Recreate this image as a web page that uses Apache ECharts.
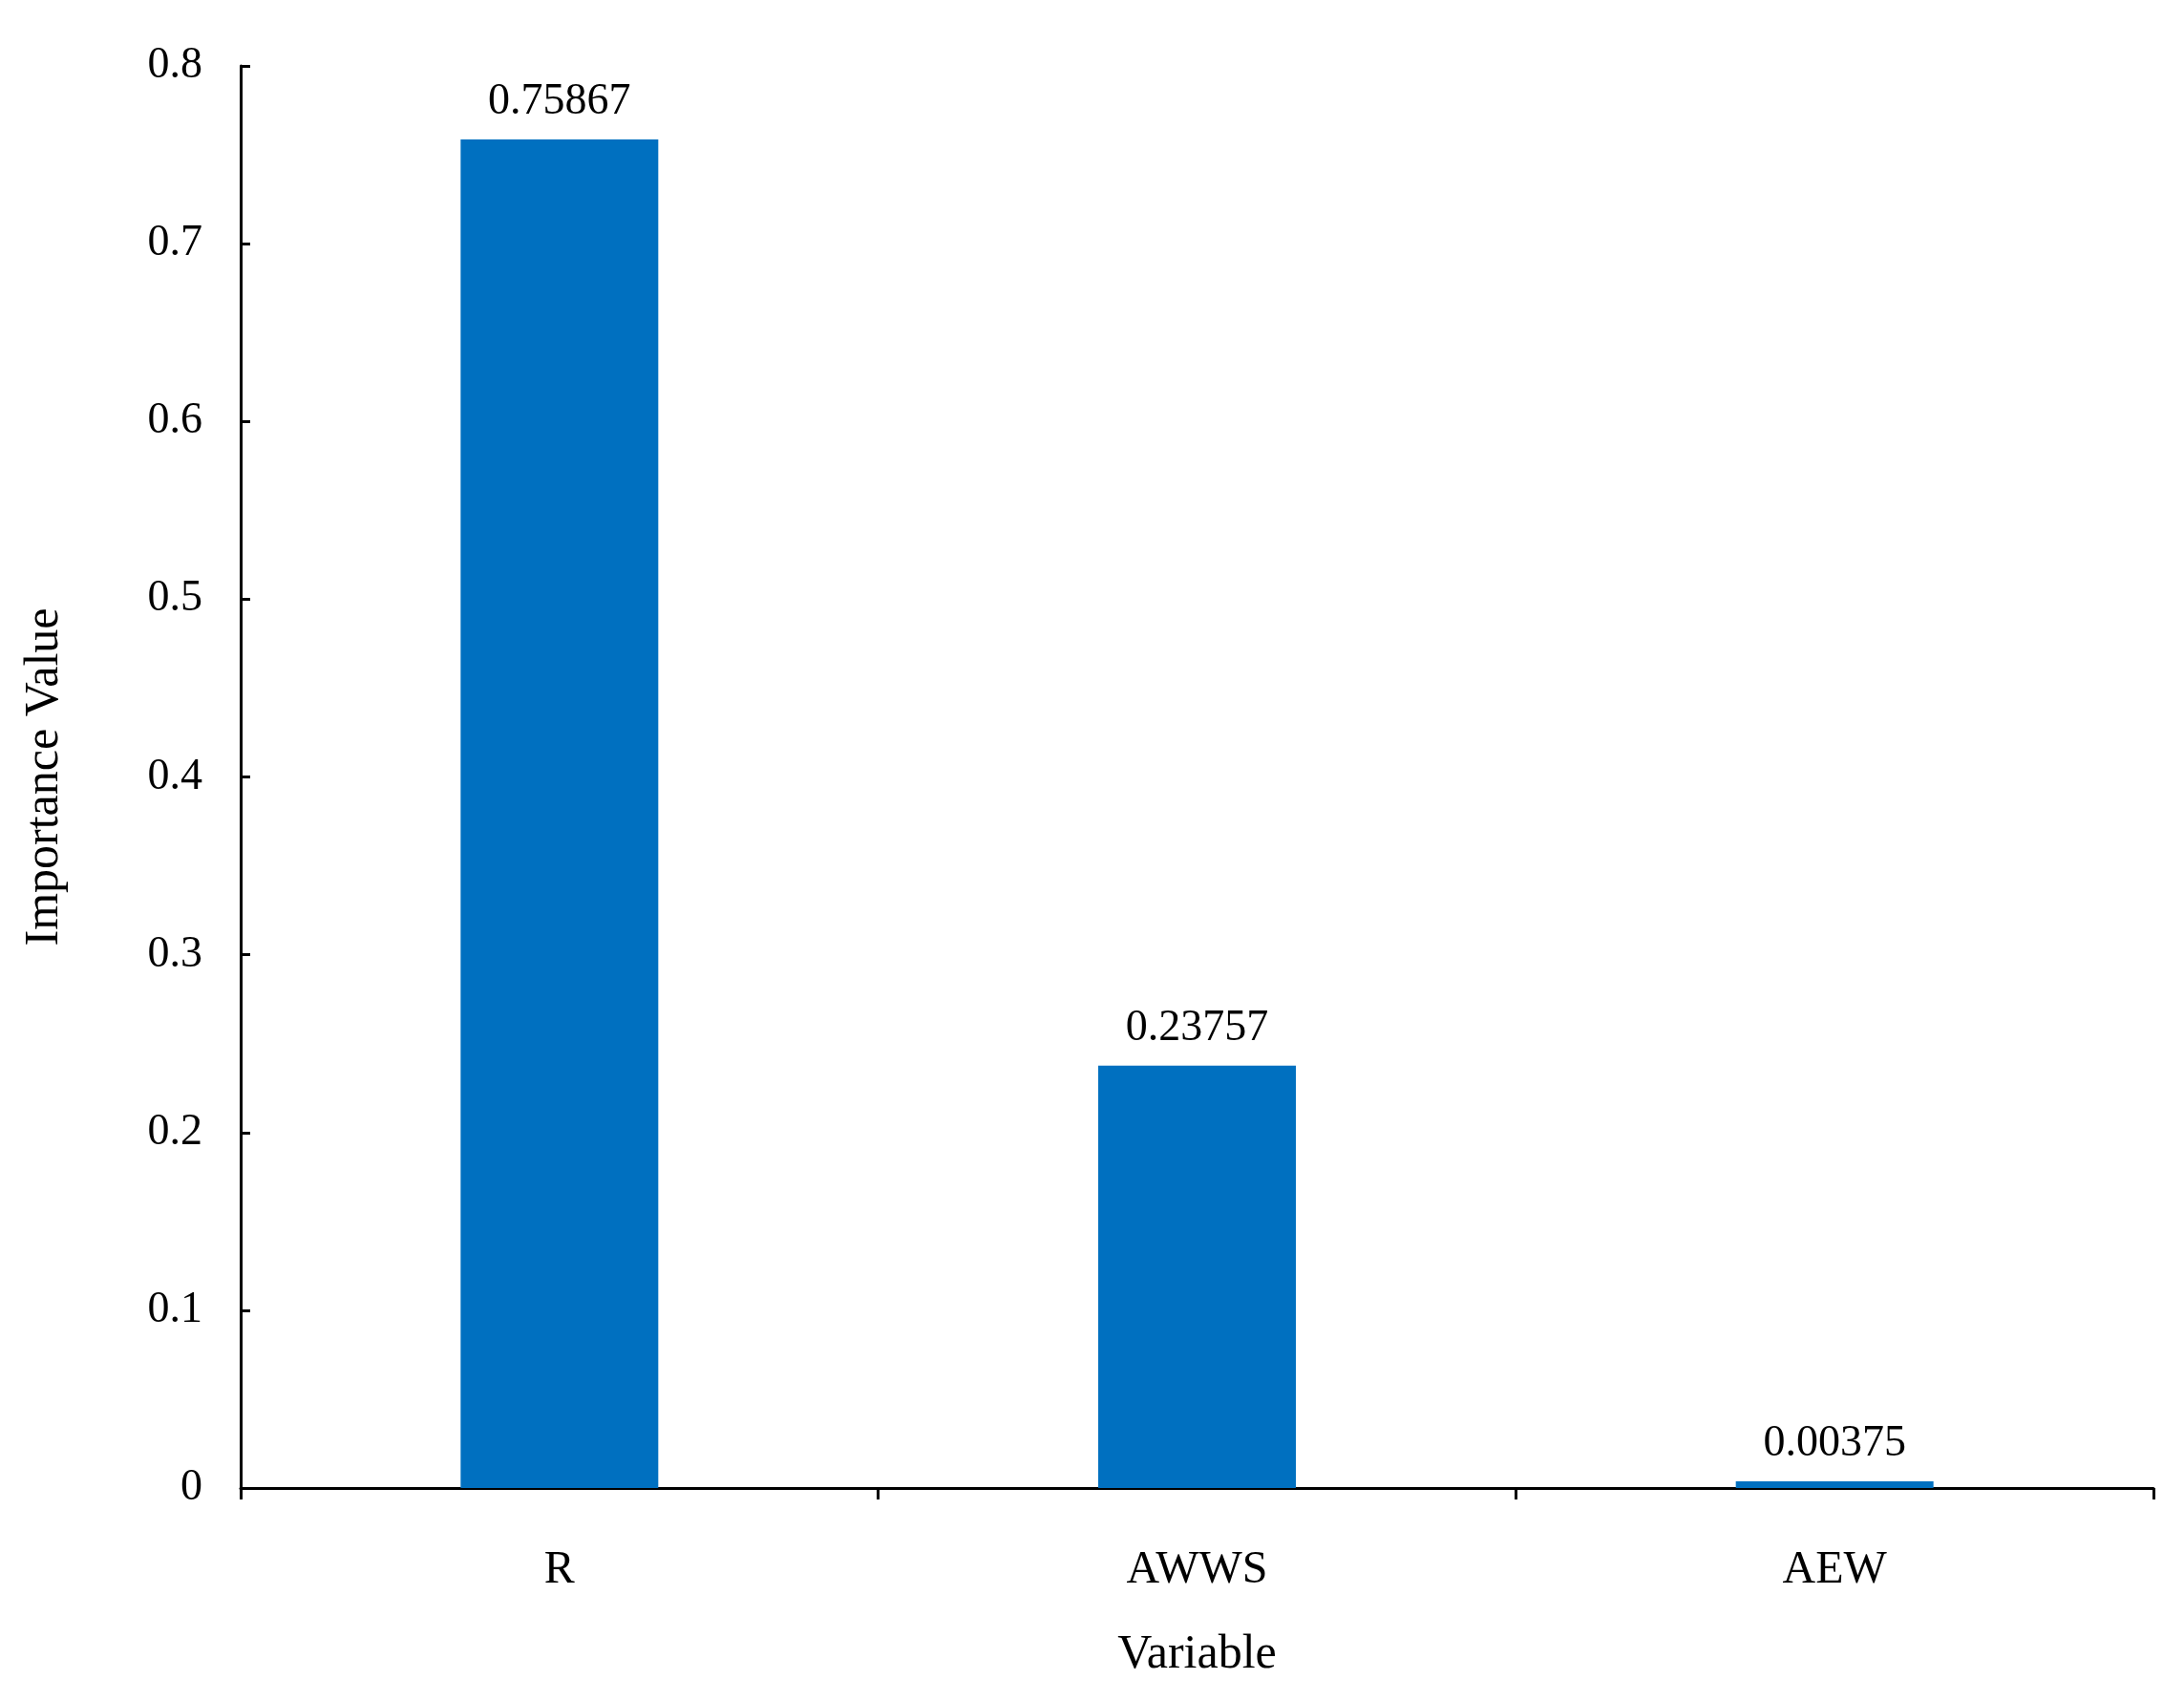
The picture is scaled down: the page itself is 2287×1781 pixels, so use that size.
<!DOCTYPE html>
<html>
<head>
<meta charset="utf-8">
<script src="https://cdn.jsdelivr.net/npm/echarts@6/dist/echarts.min.js"></script>
<style>html,body{margin:0;background:#fff}#main{width:2287px;height:1781px}</style>
</head>
<body>
<div id="main"></div>
<script>
var categories = ['R', 'AWWS', 'AEW'];
var values = [0.75867, 0.23757, 0.00375];
var yTicks = [0, 0.1, 0.2, 0.3, 0.4, 0.5, 0.6, 0.7, 0.8];

var font = 'Liberation Serif';
var myChart = echarts.init(document.getElementById('main'));
var option = {
  animation: false,
  textStyle: { fontFamily: font, color: '#000' },
  grid: { left: 252, right: 32, top: 69, bottom: 223 },
  xAxis: {
    type: 'category',
    data: categories,
    name: 'Variable',
    nameLocation: 'middle',
    nameGap: 150,
    nameTextStyle: { fontFamily: font, fontSize: 50, color: '#000' },
    axisLine: { lineStyle: { color: '#000', width: 3 } },
    axisTick: { show: true, length: 12, lineStyle: { color: '#000', width: 3 } },
    axisLabel: { fontFamily: font, fontSize: 48, color: '#000', margin: 62 }
  },
  yAxis: {
    type: 'value',
    min: 0, max: 0.8, interval: 0.1,
    name: 'Importance Value',
    nameLocation: 'middle',
    nameGap: 180,
    nameTextStyle: { fontFamily: font, fontSize: 50, color: '#000' },
    splitLine: { show: false },
    axisLine: { show: true, lineStyle: { color: '#000', width: 3 } },
    axisTick: { show: true, inside: true, length: 10, lineStyle: { color: '#000', width: 3 } },
    axisLabel: {
      fontFamily: font, fontSize: 46, color: '#000', margin: 40,
      formatter: function (v) { return yTicks.indexOf(+v.toFixed(1)) >= 0 ? String(+v.toFixed(1)) : ''; }
    }
  },
  series: [{
    type: 'bar',
    data: values,
    barWidth: '31%',
    itemStyle: { color: '#0070C0' },
    label: {
      show: true, position: 'top', distance: 16,
      fontFamily: font, fontSize: 46, color: '#000',
      formatter: function (p) { return p.value.toFixed(5); }
    }
  }]
};
myChart.setOption(option);
</script>
</body>
</html>
